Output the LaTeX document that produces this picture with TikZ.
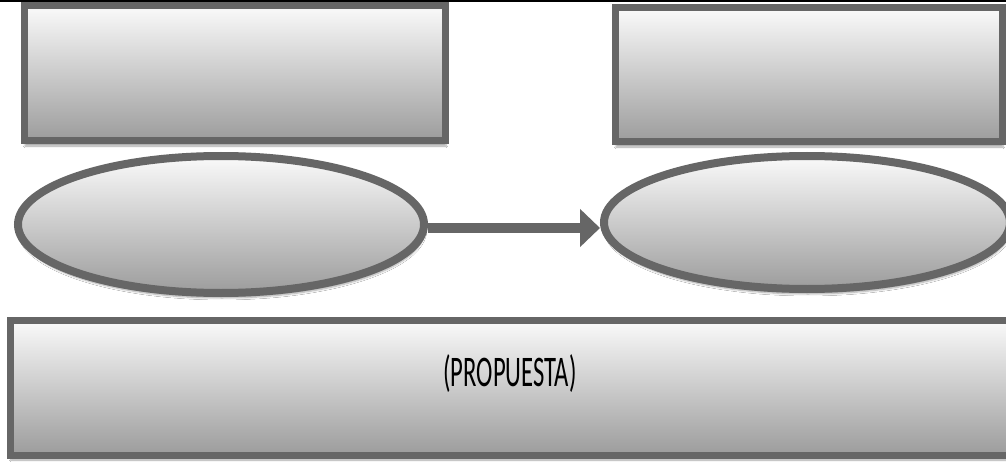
\documentclass[tikz,border=0pt]{standalone}
\usepackage{fontspec}
\setmainfont{Carlito}
\usetikzlibrary{shapes.geometric,arrows.meta,shadows.blur}
\definecolor{bord}{RGB}{102,102,102}
\definecolor{gtop}{RGB}{250,250,250}
\definecolor{gbot}{RGB}{156,156,156}
\tikzset{
  shade box/.style={draw=bord, line width=7pt, top color=gtop, bottom color=gbot,
    inner sep=0pt, outer sep=0pt,
    blur shadow={shadow xshift=1pt, shadow yshift=-5pt, shadow blur steps=6, shadow opacity=35}},
  rbox/.style={shade box, rectangle},
  ebox/.style={shade box, ellipse, line width=8pt, outer sep=4pt},
  arr/.style={draw=bord, line width=10pt, -{Triangle[length=20pt,width=37pt]}},
  lbl/.style={inner sep=0pt, text=black}
}
\begin{document}
\begin{tikzpicture}[x=1pt,y=-1pt]
\useasboundingbox (0,0) rectangle (1006,465);
\clip (0,0) rectangle (1006,465);
\fill[white] (0,0) rectangle (1006,465);
\draw[black, line width=1.6pt] (0,0.8) -- (1006,0.8);
\node[rbox, minimum width=421pt, minimum height=135pt] (tl) at (234.5,73.5) {};
\node[rbox, minimum width=387pt, minimum height=134pt] (tr) at (808.5,75) {};
\node[ebox, minimum width=406pt, minimum height=137pt] (el) at (221,224.5) {};
\node[ebox, minimum width=406pt, minimum height=133pt] (er) at (807,222.5) {};
\node[rbox, minimum width=1002pt, minimum height=135pt] (bot) at (511,387.5) {};
\node[lbl] (txt) at (510,374) {\resizebox*{133pt}{38pt}{(PROPUESTA)}};
\draw[arr] ([yshift=-3.5pt]el.east) -- ([yshift=-3.5pt]el.east -| er.west);
\end{tikzpicture}
\end{document}
